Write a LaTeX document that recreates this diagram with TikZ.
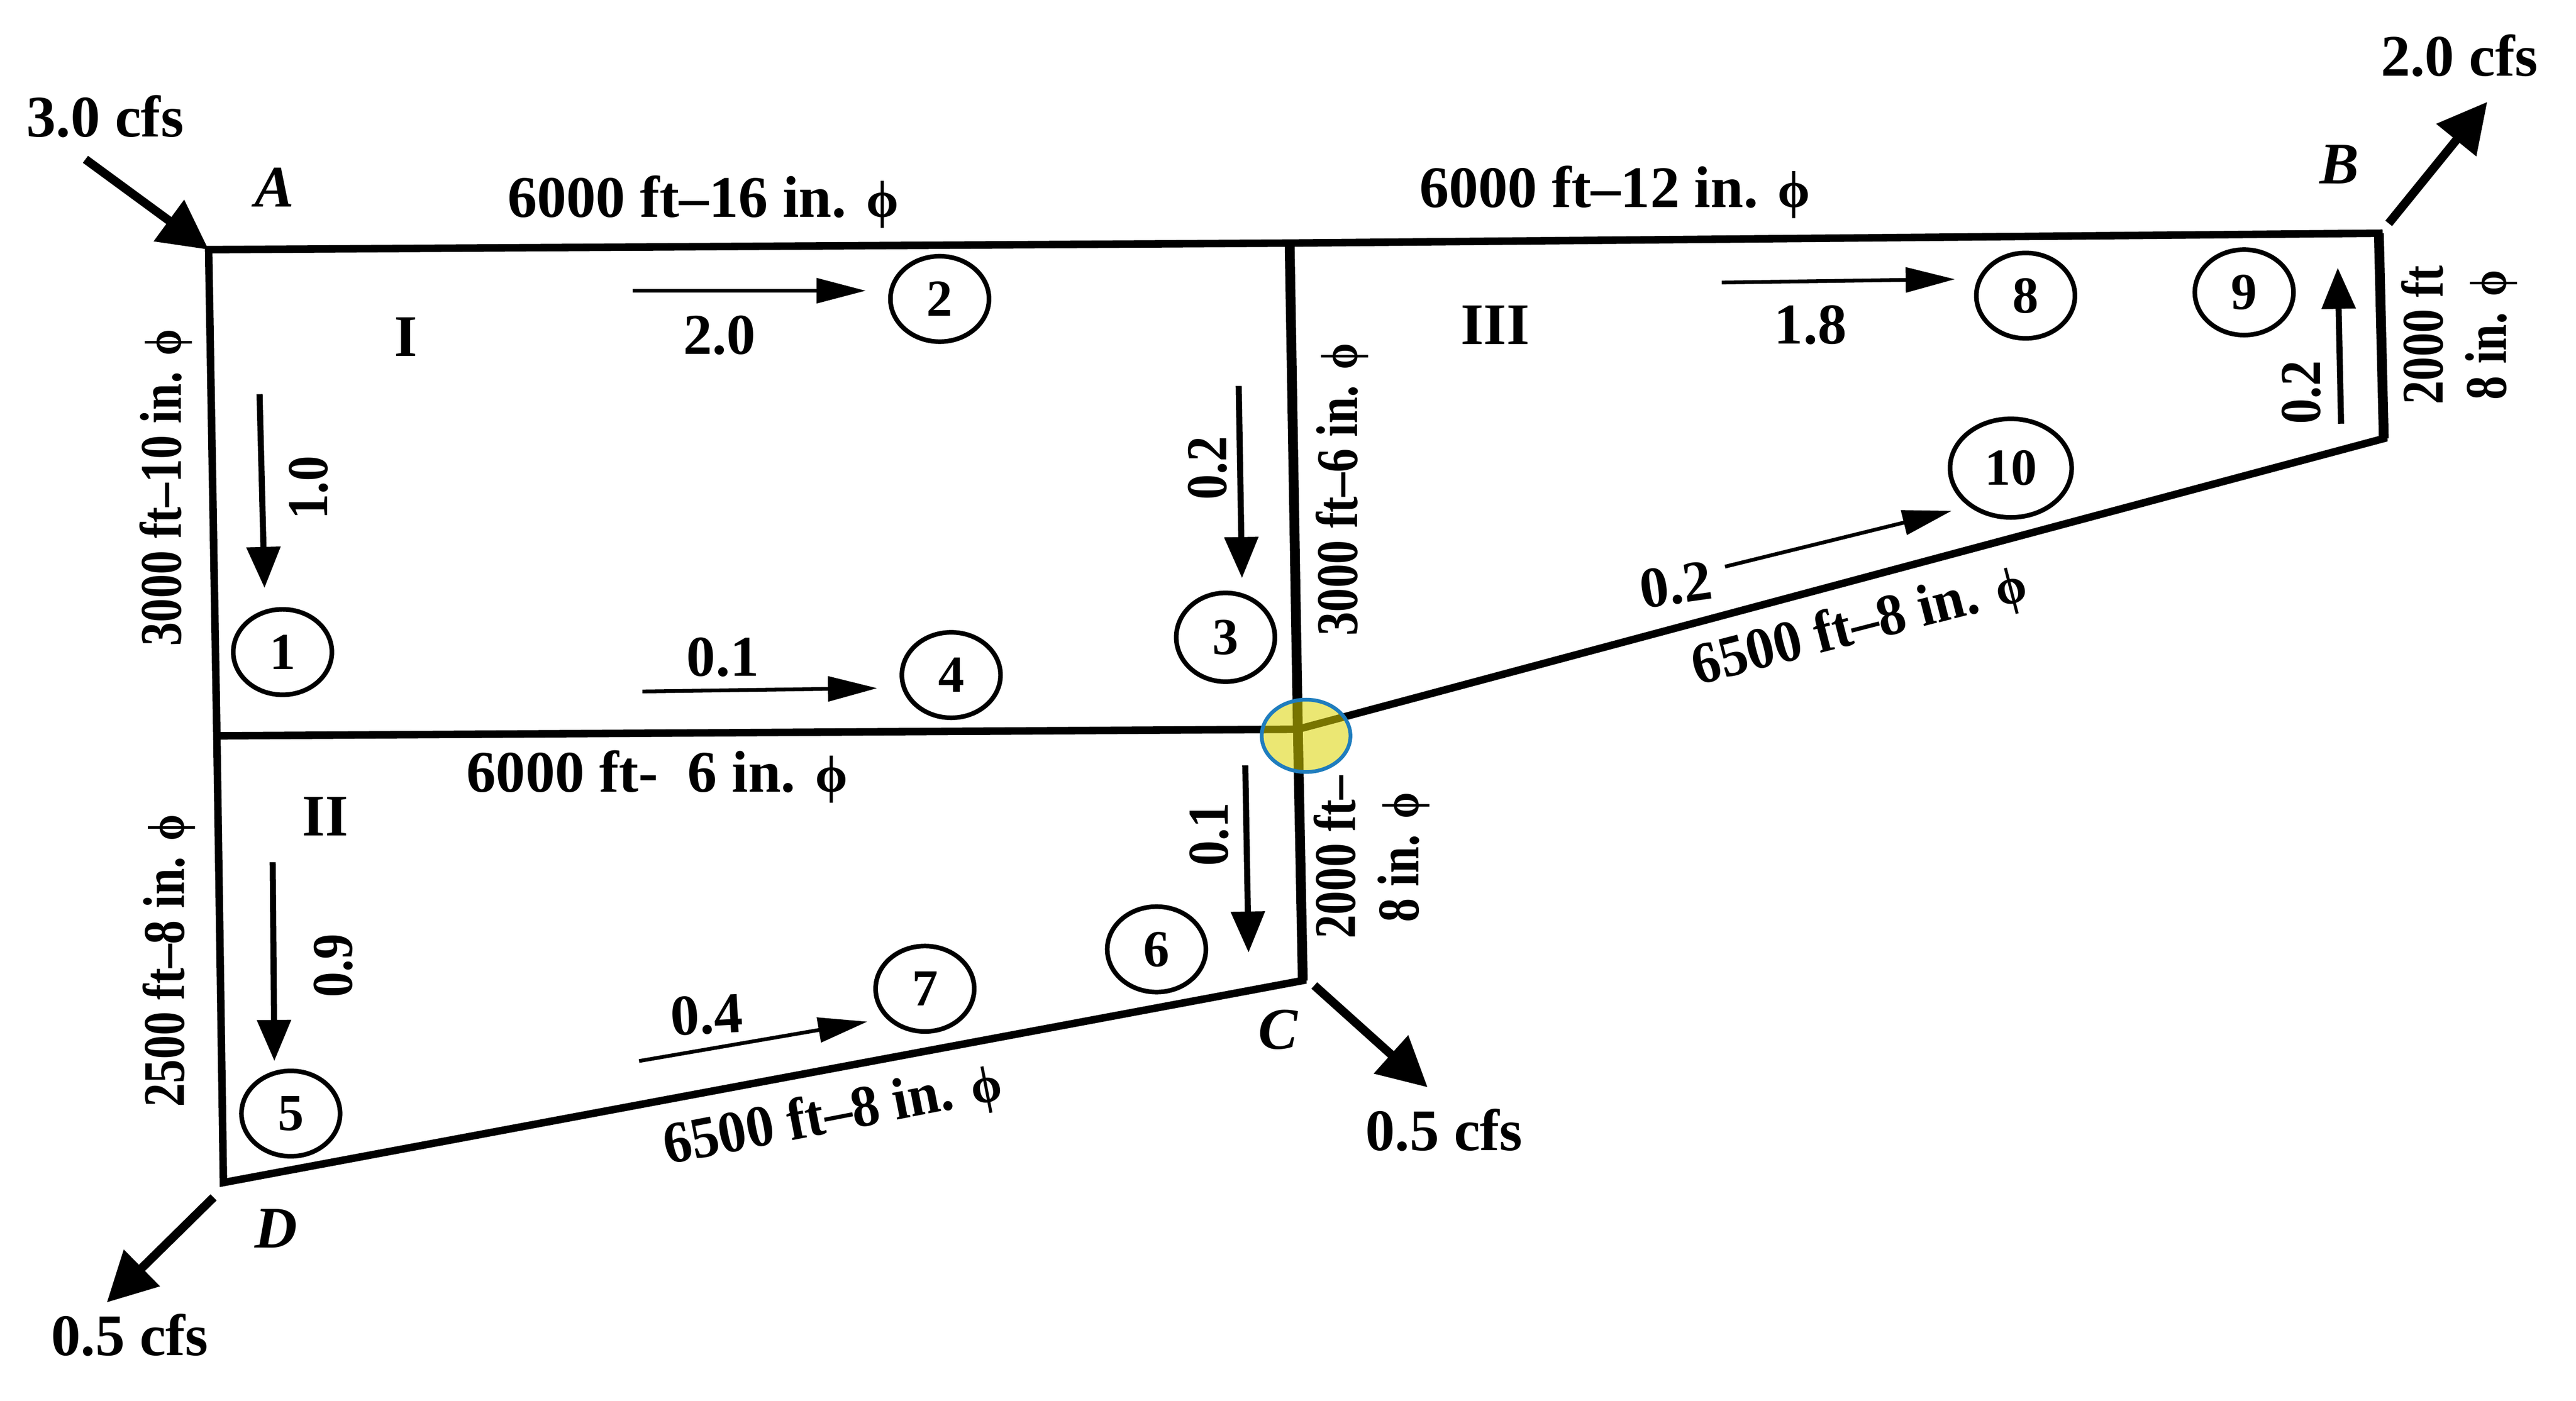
\documentclass[tikz,border=0pt]{standalone}
\usepackage{fontspec}
\setmainfont{Liberation Serif}
\usepackage{tikz}
\usetikzlibrary{positioning, arrows.meta, shapes.geometric}
\newcommand{\dia}{{\small ϕ}}
\definecolor{markfill}{RGB}{219,212,0}
\definecolor{markline}{RGB}{31,125,190}

\begin{document}
\begin{tikzpicture}[
  x=0.01cm, y=-0.01cm,
  pipe/.style={line width=1.3pt, line join=miter},
  pipeup/.style={line width=1.7pt, line join=miter},
  flow/.style={-{Triangle[length=0.3cm, width=0.15cm]}, line width=0.65pt},
  flowup/.style={-{Triangle[length=0.25cm, width=0.2cm]}, line width=1.05pt},
  load/.style={-{Triangle[length=0.3cm, width=0.3cm]}, line width=1.5pt},
  num/.style={draw, ellipse, line width=0.8pt, inner sep=0pt,
              minimum width=0.6cm, minimum height=0.52cm, font=\small\bfseries},
  lab/.style={inner sep=0pt, font=\fontsize{10.2}{11}\selectfont\bfseries, align=center},
  labup/.style={lab, rotate=90, xscale=0.81},
  corner/.style={lab, font=\fontsize{10.2}{11}\selectfont\bfseries\itshape},
  val/.style={inner sep=0pt, font=\fontsize{10}{11}\selectfont\bfseries},
  valup/.style={val, rotate=90, xscale=0.88}
]
  \useasboundingbox (0,0) rectangle (1568,852.8);

  % Junctions of the network
  \coordinate (A) at (127,152);
  \coordinate (top) at (785,148);
  \coordinate (B) at (1448,142);
  \coordinate (right) at (1451,267);
  \coordinate (mid) at (790,444);
  \coordinate (C) at (793,597);
  \coordinate (D) at (136,720);
  \coordinate (left) at (132,448);

  % Pipes
  \draw[pipe] (A) -- (top) -- (B) -- (right) -- (mid) -- (C) -- (D) -- (left) -- cycle;
  \draw[pipe] (left) -- (mid);
  \draw[pipeup] (top) -- (mid) -- (C);
  \draw[pipeup] (B) -- (right);

  % Inflow and outflows
  \coordinate (inA) at (52,97);
  \coordinate (outBa) at (1454,136);
  \coordinate (outBb) at (1514,62);
  \coordinate (outCa) at (800,600);
  \coordinate (outCb) at (869,662);
  \coordinate (outDa) at (130,729);
  \coordinate (outDb) at (65,793);
  \draw[load] (inA) -- (A);
  \draw[load] (outBa) -- (outBb);
  \draw[load] (outCa) -- (outCb);
  \draw[load] (outDa) -- (outDb);

  \node[lab] (qA) at (64,71) {3.0 cfs};
  \node[lab] (qB) at (1497,34) {2.0 cfs};
  \node[lab] (qC) at (879,688) {0.5 cfs};
  \node[lab] (qD) at (79,813) {0.5 cfs};

  % Corner letters
  \node[corner] (nameA) at (167,114) {A};
  \node[corner] (nameB) at (1424,100) {B};
  \node[corner] (nameC) at (778,627) {C};
  \node[corner] (nameD) at (168,748) {D};

  % Loop numbers
  \node[lab] (loopI) at (247,205) {I};
  \node[lab] (loopII) at (198,497) {II};
  \node[lab] (loopIII) at (910,198) {III};

  % Pipe labels
  \node[lab] (p12) at (428,123) {6000 ft–16 in. \dia};
  \node[lab] (p8b) at (983,117) {6000 ft–12 in. \dia};
  \node[labup] (p1) at (101,297) {3000 ft–10 in. \dia};
  \node[labup] (p3) at (817,298) {3000 ft–6 in. \dia};
  \node[lab] (p4) at (400,473) {6000 ft-\ \ 6 in. \dia};
  \node[labup] (p5) at (103,585) {2500 ft–8 in. \dia};
  \node[labup] (p6) at (835,522) {2000 ft–\\8 in. \dia};
  \node[labup] (p9) at (1497,204) {2000 ft\\8 in. \dia};
  \node[lab, rotate=14.5, xscale=0.95] (p10) at (1132,382) {6500 ft–8 in. \dia};
  \node[lab, rotate=11, xscale=0.95] (p7) at (507,680) {6500 ft–8 in. \dia};

  % Numbered pipes
  \node[num] (n1) at (172,397) {1};
  \node[num] (n2) at (572,182) {2};
  \node[num, minimum height=0.54cm] (n3) at (746,388) {3};
  \node[num] (n4) at (579,411) {4};
  \node[num] (n5) at (177,678) {5};
  \node[num] (n6) at (704,578) {6};
  \node[num] (n7) at (563,602) {7};
  \node[num] (n8) at (1233,180) {8};
  \node[num] (n9) at (1366,178) {9};
  \node[num, minimum width=0.74cm, minimum height=0.6cm] (n10) at (1224,285) {10};

  % Flow arrows
  \coordinate (f1a) at (158,240);  \coordinate (f1b) at (161,358);
  \coordinate (f2a) at (385,177);  \coordinate (f2b) at (527,177);
  \coordinate (f3a) at (754,235);  \coordinate (f3b) at (756,352);
  \coordinate (f4a) at (391,421);  \coordinate (f4b) at (534,419);
  \coordinate (f5a) at (166,525);  \coordinate (f5b) at (167,646);
  \coordinate (f6a) at (758,466);  \coordinate (f6b) at (760,580);
  \coordinate (f7a) at (389,646);  \coordinate (f7b) at (528,622);
  \coordinate (f8a) at (1048,172); \coordinate (f8b) at (1190,170);
  \coordinate (f9a) at (1425,258); \coordinate (f9b) at (1423,163);
  \coordinate (f10a) at (1050,345); \coordinate (f10b) at (1188,311);
  \draw[flowup] (f1a) -- (f1b);
  \draw[flow] (f2a) -- (f2b);
  \draw[flowup] (f3a) -- (f3b);
  \draw[flow] (f4a) -- (f4b);
  \draw[flowup] (f5a) -- (f5b);
  \draw[flowup] (f6a) -- (f6b);
  \draw[flow] (f7a) -- (f7b);
  \draw[flow] (f8a) -- (f8b);
  \draw[flowup] (f9a) -- (f9b);
  \draw[flow] (f10a) -- (f10b);

  % Flow values
  \node[valup] (v1) at (188,297) {1.0};
  \node[val] (v2) at (438,204) {2.0};
  \node[valup] (v3) at (735,285) {0.2};
  \node[val] (v4) at (440,400) {0.1};
  \node[valup] (v5) at (203,588) {0.9};
  \node[valup] (v6) at (736,508) {0.1};
  \node[val, rotate=3] (v7) at (430,618) {0.4};
  \node[val] (v8) at (1102,198) {1.8};
  \node[valup] (v9) at (1401,239) {0.2};
  \node[val, rotate=8] (v10) at (1020,356) {0.2};

  % Highlight on the crossing
  \node[draw=markline, line width=0.65pt, ellipse, fill=markfill, fill opacity=0.55,
        minimum width=0.54cm, minimum height=0.44cm, inner sep=0pt] (mark) at (795,448) {};
\end{tikzpicture}
\end{document}
